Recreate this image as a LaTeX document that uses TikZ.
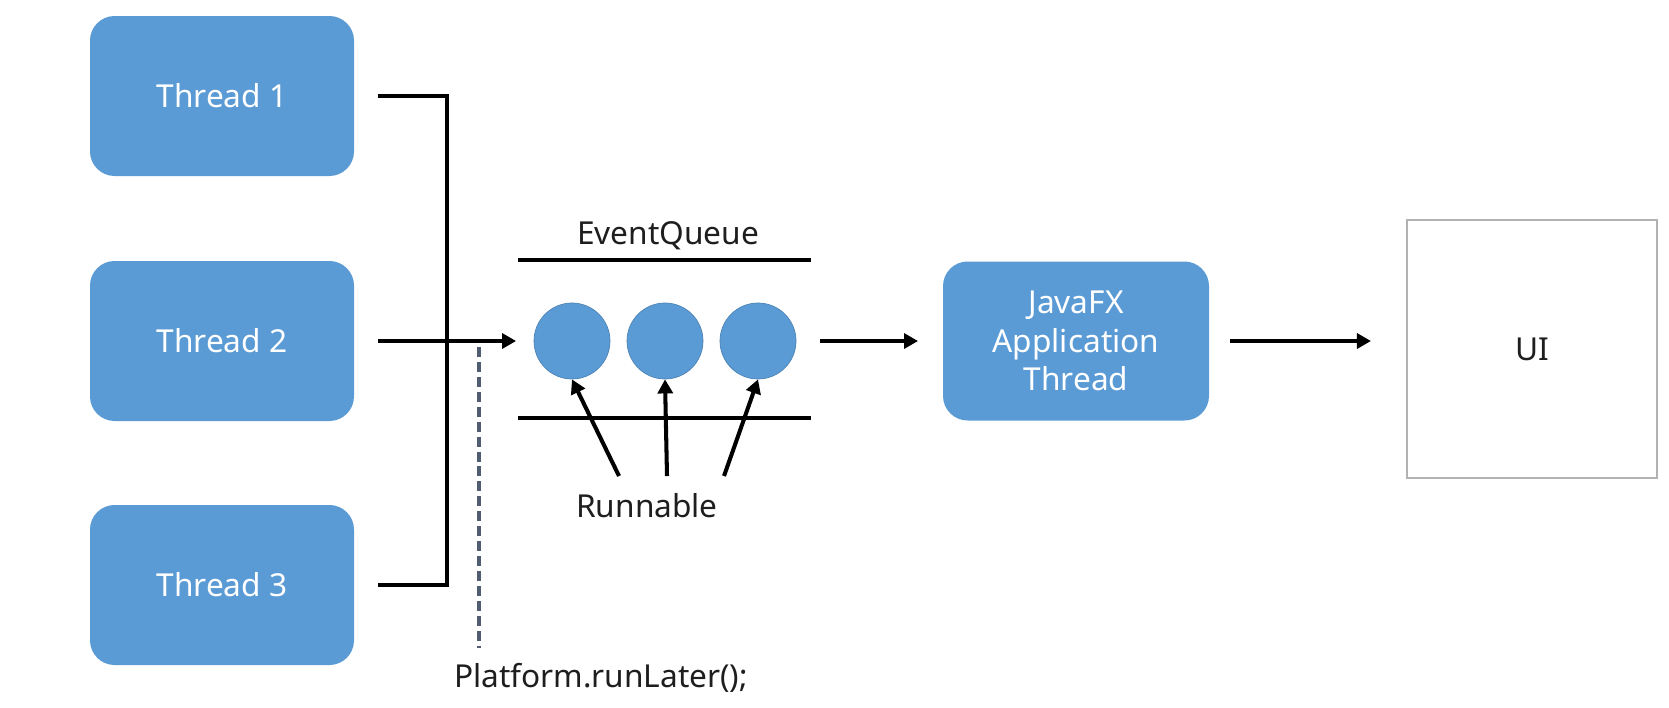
\documentclass[tikz,border=0pt]{standalone}
\usepackage{fontspec}
\setmainfont{Noto Sans}
\usetikzlibrary{arrows.meta,positioning}
\definecolor{boxblue}{RGB}{91,155,213}
\definecolor{dashcol}{RGB}{80,92,112}
\definecolor{txt}{RGB}{30,30,30}
\begin{document}
\begin{tikzpicture}[x=0.02cm,y=-0.02cm,
  thread/.style={draw=none,fill=boxblue,rounded corners=14pt,minimum width=264*0.02cm,minimum height=160*0.02cm,text=white,font=\fontsize{18}{22}\selectfont},
  qitem/.style={circle,fill=boxblue,draw=boxblue!85!black,line width=0.4pt,minimum size=76*0.02cm,inner sep=0pt},
  lbl/.style={text=txt,font=\fontsize{18}{22}\selectfont,inner sep=1pt},
  wire/.style={line width=2.3pt,black},
  arr/.style={wire,-{Triangle[length=8pt,width=8.5pt]}},
  uibox/.style={draw=gray!60,line width=1pt,fill=white,minimum width=250*0.02cm,minimum height=258*0.02cm,text=txt,font=\fontsize{18}{22}\selectfont}
]
\useasboundingbox (0,0) rectangle (1669,707);
\fill[white] (0,0) rectangle (1669,707);

\node[thread] (t1) at (222,96) {Thread 1};
\node[thread] (t2) at (222,341) {Thread 2};
\node[thread] (t3) at (222,585) {Thread 3};

\node[qitem] (c1) at (572,341) {};
\node[qitem] (c2) at (665,341) {};
\node[qitem] (c3) at (758,341) {};

\node[lbl] (eq) at (668,236) {EventQueue};
\coordinate (qa1) at (518,260);
\coordinate (qb1) at (811,260);
\coordinate (qa2) at (518,418);
\coordinate (qb2) at (811,418);
\draw[wire] (qa1) -- (qb1);
\draw[wire] (qa2) -- (qb2);

\node[lbl] (run) at (647,506) {Runnable};
\coordinate (r1) at (619,476);
\coordinate (r2) at (667,476);
\coordinate (r3) at (724,476);
\draw[arr] (r1) -- (c1.south);
\draw[arr] (r2) -- (c2.south);
\draw[arr] (r3) -- (c3.south);

\node[thread,minimum width=266*0.02cm,minimum height=159*0.02cm,align=center,font=\fontsize{18}{22}\selectfont] (fx) at (1076,341) {JavaFX\\Application\\Thread};

\node[uibox] (ui) at (1532,349) {UI};

\coordinate (bus) at (447,341);
\draw[wire] ([xshift=13.6pt]t1.east) -| (bus) |- ([xshift=13.6pt]t3.east);
\draw[arr,shorten >=10pt] ([xshift=13.6pt]t2.east) -- (c1.west);

\node[lbl] (pf) at (601,678) {Platform.runLater();};
\coordinate (d1) at (479,347);
\coordinate (d2) at (479,648);
\draw[dashcol,line width=2.3pt,dash pattern=on 5.7pt off 2.8pt] (d1) -- (d2);

\draw[arr,shorten <=13.6pt,shorten >=14pt] (c3.east) -- (fx.west);
\draw[arr,shorten <=12pt,shorten >=20pt] (fx.east) -- (fx.east -| ui.west);
\end{tikzpicture}
\end{document}
